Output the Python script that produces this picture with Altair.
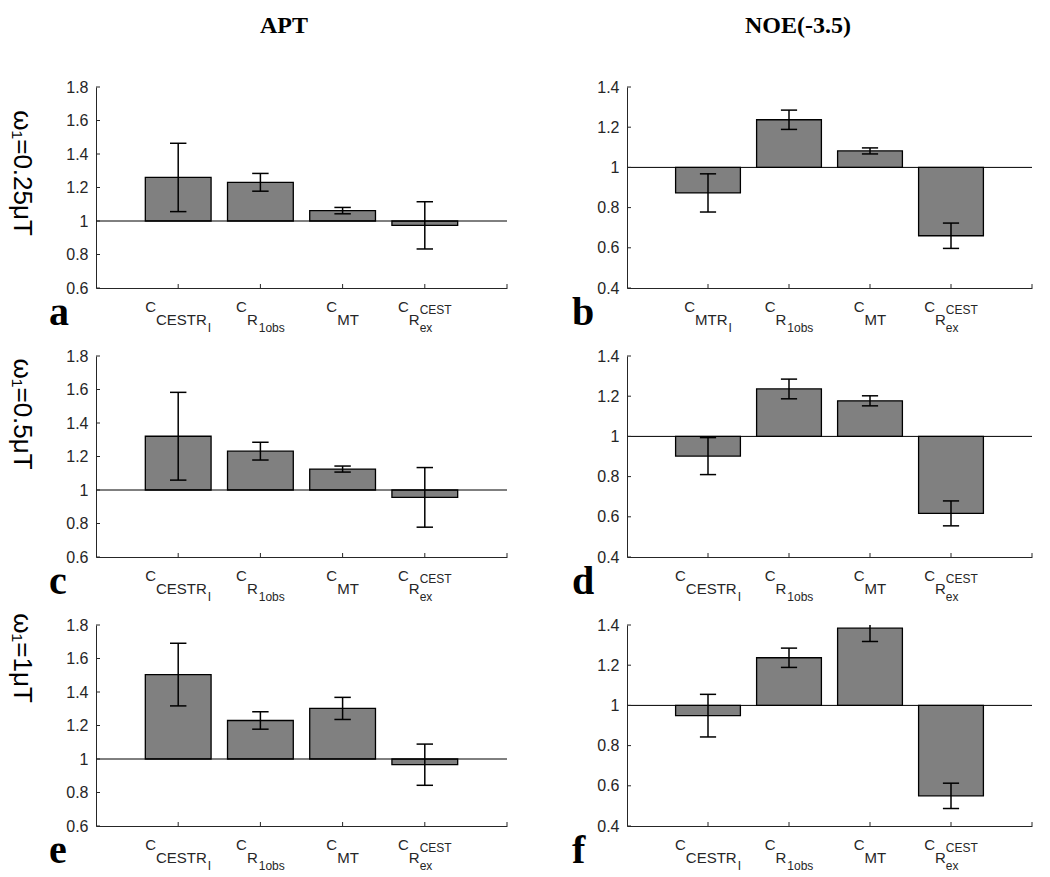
import altair as alt
import pandas as pd

# ---------------- data ----------------
categories = [1, 2, 3, 4]
column_titles = ["APT", "NOE(-3.5)"]
row_labels = ["ω₁=0.25μT", "ω₁=0.5μT", "ω₁=1μT"]
panel_letters = ["a", "b", "c", "d", "e", "f"]

apt_ticks = [0.6, 0.8, 1.0, 1.2, 1.4, 1.6, 1.8]
noe_ticks = [0.4, 0.6, 0.8, 1.0, 1.2, 1.4]

a_mean = [1.260, 1.231, 1.062, 0.974]
a_err = [0.204, 0.053, 0.019, 0.141]
b_mean = [0.873, 1.237, 1.082, 0.660]
b_err = [0.095, 0.048, 0.015, 0.063]
c_mean = [1.321, 1.232, 1.125, 0.956]
c_err = [0.262, 0.053, 0.018, 0.178]
d_mean = [0.902, 1.236, 1.177, 0.617]
d_err = [0.092, 0.049, 0.025, 0.062]
e_mean = [1.504, 1.230, 1.302, 0.966]
e_err = [0.187, 0.052, 0.066, 0.123]
f_mean = [0.949, 1.237, 1.384, 0.550]
f_err = [0.106, 0.048, 0.066, 0.063]

# tick label pieces: (text, level, stacked-on-previous)
lab_cestr = [("C", 0, False), ("CESTR", 1, False), ("I", 2, False)]
lab_mtr = [("C", 0, False), ("MTR", 1, False), ("I", 2, False)]
lab_r1 = [("C", 0, False), ("R", 1, False), ("1obs", 2, False)]
lab_mt = [("C", 0, False), ("MT", 1, False)]
lab_rex = [("C", 0, False), ("R", 1, False), ("CEST", 3, False), ("ex", 2, True)]

# ---------------- style ----------------
LEVEL_SIZE = {0: 15, 1: 15, 2: 12, 3: 12}
LEVEL_BASE = {0: 24, 1: 37, 2: 44, 3: 26}
ADV = {"C": 722, "E": 667, "S": 667, "T": 611, "R": 722, "M": 833, "I": 278,
       "1": 556, "o": 556, "b": 556, "s": 500, "e": 556, "x": 500}
AX = "#262626"
H = 201


def text_width(s, size):
    return sum(ADV.get(ch, 556) for ch in s) / 1000.0 * size


def layout(frags):
    out = []
    cursor = 0.0
    prev_start = 0.0
    for text, lvl, stacked in frags:
        size = LEVEL_SIZE[lvl]
        start = prev_start if stacked else cursor + (1 if lvl == 2 and not stacked else 0)
        w = text_width(text, size)
        out.append([text, start, size, LEVEL_BASE[lvl]])
        cursor = max(cursor, start + w)
        prev_start = start
    total = cursor
    for o in out:
        o[1] = o[1] - total / 2.0
    return out


def panel(means, errs, ticks, width, labels, letter, letter_dx,
          row_label=None, row_label_y=None, title=None, title_x=None):
    df = pd.DataFrame({"pos": categories, "mean": means, "err": errs})
    xs = alt.Scale(domain=[0, 5], nice=False, zero=False)
    ys = alt.Scale(domain=[ticks[0], ticks[-1]], nice=False, zero=False)
    xax = alt.Axis(title=None, labels=False, ticks=False, grid=False,
                   domainColor=AX, domainWidth=1)
    yax = alt.Axis(title=None, values=ticks, format="~g", ticks=False, grid=False,
                   labelPadding=8, labelFontSize=16, labelColor=AX,
                   labelFont="Liberation Sans", domainColor=AX, domainWidth=1)
    base = alt.Chart(df)

    bars = base.transform_calculate(
        x1="datum.pos - 0.4", x2="datum.pos + 0.4"
    ).mark_bar(fill="#808080", stroke="#000000", strokeWidth=1.3).encode(
        x=alt.X("x1:Q", scale=xs, axis=xax),
        x2="x2:Q",
        y=alt.Y("mean:Q", scale=ys, axis=yax),
        y2=alt.datum(1.0),
    )

    one = alt.Chart(pd.DataFrame({"b": [1.0]}))
    baseline = one.transform_calculate(x0="0", x5="5").mark_rule(
        color="black", strokeWidth=1
    ).encode(
        x=alt.X("x0:Q", scale=xs, axis=xax),
        x2="x5:Q",
        y=alt.Y("b:Q", scale=ys, axis=yax),
    )

    err = base.transform_calculate(
        lo="datum.mean - datum.err", hi="datum.mean + datum.err"
    ).mark_rule(color="black", strokeWidth=1.5, clip=True).encode(
        x=alt.X("pos:Q", scale=xs, axis=xax),
        y=alt.Y("lo:Q", scale=ys, axis=yax),
        y2="hi:Q",
    )
    cap_hi = base.transform_calculate(
        c1="datum.pos - 0.1", c2="datum.pos + 0.1", v="datum.mean + datum.err"
    ).mark_rule(color="black", strokeWidth=1.5, clip=True).encode(
        x=alt.X("c1:Q", scale=xs, axis=xax), x2="c2:Q",
        y=alt.Y("v:Q", scale=ys, axis=yax),
    )
    cap_lo = base.transform_calculate(
        c1="datum.pos - 0.1", c2="datum.pos + 0.1", v="datum.mean - datum.err"
    ).mark_rule(color="black", strokeWidth=1.5, clip=True).encode(
        x=alt.X("c1:Q", scale=xs, axis=xax), x2="c2:Q",
        y=alt.Y("v:Q", scale=ys, axis=yax),
    )

    ytick = alt.Chart(pd.DataFrame({"t": ticks})).mark_rule(color=AX).encode(
        y=alt.Y("t:Q", scale=ys, axis=yax), x=alt.value(0), x2=alt.value(4)
    )
    xtick = alt.Chart(pd.DataFrame({"p": categories + [5]})).mark_rule(color=AX).encode(
        x=alt.X("p:Q", scale=xs, axis=xax), y=alt.value(H), y2=alt.value(H - 4)
    )

    layers = [bars, baseline, err, cap_hi, cap_lo, ytick, xtick]

    for pos, frags in zip(categories, labels):
        for text, dx, size, dy in layout(frags):
            layers.append(
                alt.Chart(pd.DataFrame({"pos": [pos], "t": [text]})).mark_text(
                    align="left", baseline="alphabetic", dx=dx, fontSize=size,
                    font="Liberation Sans", color=AX
                ).encode(
                    x=alt.X("pos:Q", scale=xs, axis=xax),
                    y=alt.value(H + dy),
                    text="t:N",
                )
            )

    layers.append(
        alt.Chart(pd.DataFrame({"t": [letter]})).mark_text(
            align="left", baseline="alphabetic", font="Liberation Serif",
            fontWeight="bold", fontSize=40, color="black"
        ).encode(x=alt.value(letter_dx), y=alt.value(H + 37), text="t:N")
    )
    if row_label is not None:
        layers.append(
            alt.Chart(pd.DataFrame({"t": [row_label]})).mark_text(
                angle=90, align="center", baseline="middle",
                font="Liberation Sans", fontSize=26, color="black"
            ).encode(x=alt.value(-74), y=alt.value(row_label_y), text="t:N")
        )
    if title is not None:
        layers.append(
            alt.Chart(pd.DataFrame({"t": [title]})).mark_text(
                align="center", baseline="alphabetic", font="Liberation Serif",
                fontWeight="bold", fontSize=24, color="black"
            ).encode(x=alt.value(title_x), y=alt.value(-54), text="t:N")
        )

    return alt.layer(*layers).properties(width=width, height=H)


WL, WR = 411, 405
apt_labels = [lab_cestr, lab_r1, lab_mt, lab_rex]
noe_labels_b = [lab_mtr, lab_r1, lab_mt, lab_rex]

pa = panel(a_mean, a_err, apt_ticks, WL, apt_labels, panel_letters[0], -47,
           row_labels[0], 86, column_titles[0], 188)
pb = panel(b_mean, b_err, noe_ticks, WR, noe_labels_b, panel_letters[1], -55,
           title=column_titles[1], title_x=171)
pc = panel(c_mean, c_err, apt_ticks, WL, apt_labels, panel_letters[2], -47,
           row_labels[1], 58)
pd_ = panel(d_mean, d_err, noe_ticks, WR, apt_labels, panel_letters[3], -55)
pe = panel(e_mean, e_err, apt_ticks, WL, apt_labels, panel_letters[4], -47,
           row_labels[2], 33)
pf = panel(f_mean, f_err, noe_ticks, WR, apt_labels, panel_letters[5], -55)

chart = alt.concat(
    pa, pb, pc, pd_, pe, pf,
    columns=2,
    spacing={"row": 68, "column": 120},
    bounds="flush",
).configure_view(stroke=None).properties(
    padding={"left": 0, "top": 6, "right": 0, "bottom": 0}
)

chart.save("out.html", embed_options={"renderer": "svg", "actions": False})
